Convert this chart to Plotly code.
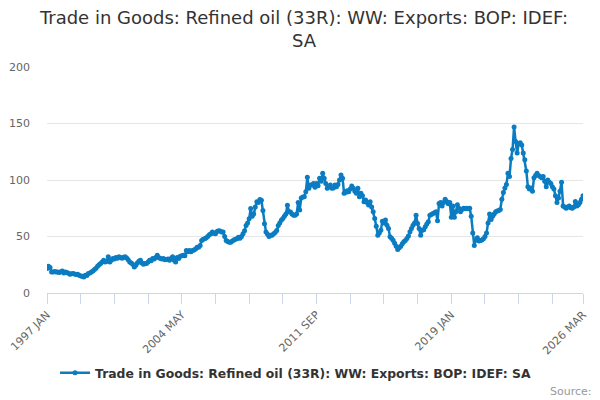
import plotly.graph_objects as go

MONTH_NAMES = ["JAN", "FEB", "MAR", "APR", "MAY", "JUN", "JUL", "AUG", "SEP", "OCT", "NOV", "DEC"]

v1997 = [21.6, 23.7, 22.5, 18.6, 18.6, 19.0, 18.5, 18.6, 18.2, 18.8, 19.5, 17.8]
v1998 = [18.6, 18.1, 17.5, 16.6, 17.0, 17.2, 16.8, 16.3, 16.5, 15.8, 15.1, 14.8]
v1999 = [14.2, 15.7, 15.5, 17.2, 17.8, 18.6, 19.5, 20.7, 21.8, 23.7, 25.0, 26.2]
v2000 = [27.5, 29.0, 27.5, 28.0, 32.0, 27.5, 29.0, 30.5, 30.0, 31.4, 30.8, 32.0]
v2001 = [31.4, 30.8, 31.6, 32.0, 31.0, 29.5, 27.5, 26.5, 25.4, 23.0, 24.5, 26.6]
v2002 = [28.0, 29.0, 26.6, 25.4, 26.0, 26.0, 27.5, 29.0, 28.5, 30.5, 30.0, 31.5]
v2003 = [33.4, 31.5, 30.5, 30.0, 30.5, 29.5, 29.6, 30.0, 29.0, 30.5, 32.0, 29.0]
v2004 = [27.5, 31.4, 30.5, 32.5, 33.0, 33.4, 33.0, 37.5, 36.5, 37.5, 36.6, 37.5]
v2005 = [38.0, 39.0, 40.5, 40.5, 42.0, 46.4, 47.5, 48.0, 49.0, 50.0, 51.5, 52.5]
v2006 = [53.9, 52.8, 52.4, 54.5, 55.0, 54.8, 54.0, 53.9, 50.0, 46.4, 45.5, 45.0]
v2007 = [45.0, 46.0, 47.0, 47.5, 48.0, 49.4, 48.5, 50.0, 52.4, 55.0, 59.8, 62.0]
v2008 = [65.8, 74.7, 68.0, 70.0, 76.0, 80.7, 80.0, 82.7, 82.0, 73.0, 61.3, 53.9]
v2009 = [52.0, 50.0, 51.0, 51.0, 52.5, 53.5, 55.4, 59.8, 62.0, 64.3, 66.0, 68.0]
v2010 = [70.0, 77.7, 72.0, 71.7, 70.0, 68.8, 68.8, 70.0, 80.0, 73.4, 84.0, 85.0]
v2011 = [85.2, 89.6, 102.4, 92.6, 95.5, 95.6, 97.0, 93.5, 97.0, 95.0, 101.5, 99.0]
v2012 = [105.9, 101.5, 97.0, 92.6, 94.0, 95.6, 92.6, 93.0, 95.6, 94.0, 96.0, 100.0]
v2013 = [104.4, 101.5, 88.2, 89.0, 90.5, 89.6, 92.0, 94.7, 92.6, 90.0, 88.2, 92.6]
v2014 = [85.2, 88.2, 86.0, 80.8, 82.2, 80.0, 77.8, 80.8, 76.0, 71.9, 66.0, 59.0]
v2015 = [51.2, 53.0, 55.6, 63.6, 62.0, 64.5, 60.0, 57.0, 49.7, 48.5, 46.7, 44.0]
v2016 = [41.4, 38.5, 40.0, 41.4, 43.5, 45.3, 46.5, 48.2, 50.5, 54.1, 57.0, 60.0]
v2017 = [62.0, 68.9, 61.5, 57.0, 51.2, 55.6, 56.0, 58.6, 61.0, 63.0, 68.9, 69.5]
v2018 = [70.4, 71.0, 71.9, 64.0, 79.3, 80.0, 77.0, 80.0, 83.0, 81.0, 79.0, 80.0]
v2019 = [67.0, 77.0, 67.0, 72.0, 78.0, 75.0, 72.0, 74.0, 75.0, 74.5, 75.0, 74.5]
v2020 = [75.0, 68.0, 53.0, 42.0, 47.0, 49.0, 46.0, 46.5, 47.0, 48.0, 50.0, 53.0]
v2021 = [62.0, 70.0, 65.0, 68.0, 70.0, 72.0, 72.5, 73.0, 74.0, 83.0, 89.0, 93.0]
v2022 = [96.0, 106.0, 103.0, 119.0, 127.0, 147.0, 134.0, 124.0, 132.0, 133.0, 131.0, 124.0]
v2023 = [118.0, 108.0, 94.0, 92.0, 93.0, 90.0, 102.0, 104.0, 106.0, 104.0, 103.0, 102.0]
v2024 = [103.0, 99.0, 94.0, 100.0, 98.0, 97.0, 94.0, 92.0, 86.0, 80.0, 84.0, 90.0]
v2025 = [98.0, 77.0, 76.0, 75.0, 76.0, 77.0, 75.5, 75.0, 76.0, 81.0, 77.0, 78.0]
v2026 = [80.0, 83.0, 86.0]

yearly = [v1997, v1998, v1999, v2000, v2001, v2002, v2003, v2004, v2005, v2006,
          v2007, v2008, v2009, v2010, v2011, v2012, v2013, v2014, v2015, v2016,
          v2017, v2018, v2019, v2020, v2021, v2022, v2023, v2024, v2025, v2026]

months = []
values = []
for i, vals in enumerate(yearly):
    for m, v in enumerate(vals):
        months.append(f"{1997 + i} {MONTH_NAMES[m]}")
        values.append(v)

labelled_ticks = ["1997 JAN", "2004 MAY", "2011 SEP", "2019 JAN", "2026 MAR"]
tick_cats = [months[i] for i in list(range(0, 331, 22)) + [len(months) - 1]]
tick_text = [c if c in labelled_ticks else "" for c in tick_cats]

series_name = "Trade in Goods: Refined oil (33R): WW: Exports: BOP: IDEF: SA"
line_color = "#0b7cc1"

# page body has an 8px default margin, so the figure is drawn 8px smaller
W, H = 592, 392

fig = go.Figure()
fig.add_trace(go.Scatter(
    x=months, y=values, mode="lines+markers", name=series_name,
    line=dict(color=line_color, width=2.5),
    marker=dict(color=line_color, size=5),
))

fig.update_layout(
    width=W, height=H,
    margin=dict(l=39, r=17, t=59, b=107),
    paper_bgcolor="white", plot_bgcolor="white",
    font=dict(family="DejaVu Sans", color="#666666", size=11),
    title=dict(
        text="Trade in Goods: Refined oil (33R): WW: Exports: BOP: IDEF:<br>SA",
        x=0.5, xanchor="center", xref="container",
        y=1 - 15.5 / H, yanchor="middle", yref="container",
        font=dict(family="DejaVu Sans", size=18, color="#333333"),
    ),
    showlegend=True,
    legend=dict(
        orientation="h", x=0.015, xanchor="left", y=-0.355, yanchor="middle",
        font=dict(family="DejaVu Sans", size=12.4, color="#333333", weight="bold"),
    ),
    annotations=[dict(
        text="Source:", xref="paper", yref="paper", x=1.02, y=-0.435,
        xanchor="right", yanchor="middle", showarrow=False,
        font=dict(family="DejaVu Sans", size=11, color="#999999"),
    )],
)

fig.update_xaxes(
    type="category", categoryorder="array", categoryarray=months,
    range=[0, len(months) - 1], automargin=False,
    tickmode="array", tickvals=tick_cats, ticktext=tick_text,
    tickangle=-45, ticks="outside", ticklen=10, tickcolor="#ccd6eb",
    showline=True, linecolor="#ccd6eb", linewidth=1,
    showgrid=False, zeroline=False,
    tickfont=dict(family="DejaVu Sans", size=11, color="#666666"),
)
fig.update_yaxes(
    range=[0, 200], tickvals=[0, 50, 100, 150, 200], automargin=False,
    showgrid=True, gridcolor="#e6e6e6", gridwidth=1,
    zeroline=False, showline=False, ticklabelstandoff=16,
    tickfont=dict(family="DejaVu Sans", size=11, color="#666666"),
)

fig.write_html("out.html")
